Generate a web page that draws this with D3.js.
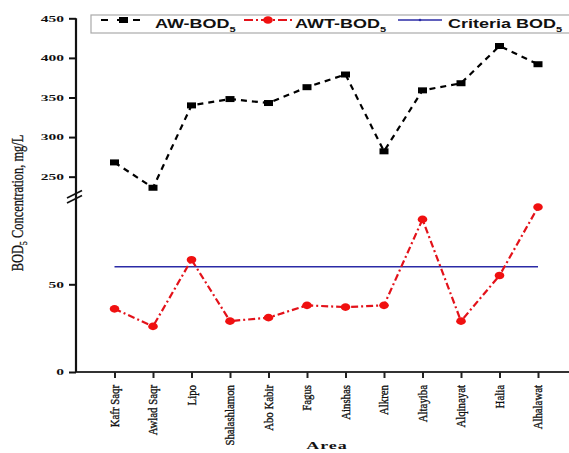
<!DOCTYPE html>
<html>
<head>
<meta charset="utf-8">
<script src="https://cdn.jsdelivr.net/npm/d3@7"></script>
<style>
  html, body { margin: 0; padding: 0; background: #fff; }
  svg { display: block; }
</style>
</head>
<body>
<svg id="chart" width="569" height="453"></svg>
<script>
const categories = ["Kafr Saqr","Awlad Saqr","Lipo","Shalashlamon","Abo Kabir","Fagus","Ainshas","Alkren","Altayiba","Alqinayat","Halia","Alhalawat"];
const awBOD = [268,236,340,348,343,363,379,282,359,368,415,392];
const awtBOD = [36,26,64,29,31,38,37,38,87,29,55,94];
const criteriaBOD = 60;
const lowTicks = [0,50];
const highTicks = [250,300,350,400,450];

const svg = d3.select("#chart");
const x = d3.scaleLinear().domain([0, categories.length + 1]).range([76, 576.5]);
const yLow = d3.scaleLinear().domain([0, 100]).range([372, 196.6]);
const yHigh = d3.scaleLinear().domain([230, 450]).range([192.5, 18.3]);
const idx = d3.range(1, categories.length + 1);

// X axis
const xAxis = svg.append("g").attr("transform", "translate(0,372)")
  .call(d3.axisBottom(x).tickValues(idx).tickFormat(() => "").tickSizeOuter(0).tickSize(6));
xAxis.select(".domain").attr("stroke", "#333").attr("stroke-width", 2).attr("d", "M76,0H569");
xAxis.selectAll(".tick line").attr("stroke", "#222").attr("stroke-width", 2);

// X tick labels (rotated)
svg.append("g").selectAll("text").data(idx).join("text")
  .attr("transform", i => `translate(${x(i) + 4},385) rotate(-90) scale(0.8,1)`)
  .attr("text-anchor", "end")
  .attr("font-family", "Liberation Serif, Times New Roman, serif")
  .attr("font-size", 13.5)
  .attr("fill", "#111").attr("stroke", "#111").attr("stroke-width", 0.35)
  .text(i => categories[i - 1]);

// Y axis
function styleY(g) {
  g.select(".domain").remove();
  g.selectAll(".tick line").attr("stroke", "#111").attr("stroke-width", 2);
  g.selectAll(".tick text").remove();
}
svg.append("g").attr("transform", "translate(76,0)")
  .call(d3.axisLeft(yLow).tickValues(lowTicks).tickSize(7)).call(styleY);
svg.append("g").attr("transform", "translate(76,0)")
  .call(d3.axisLeft(yHigh).tickValues(highTicks).tickSize(7)).call(styleY);
svg.append("line").attr("x1", 76).attr("x2", 76).attr("y1", yHigh(450)).attr("y2", yLow(0))
  .attr("stroke", "#111").attr("stroke-width", 2.2);

// Y tick labels (squashed bold serif)
function yLabels(ticks, scale) {
  svg.append("g").selectAll("text").data(ticks).join("text")
    .attr("transform", d => `translate(64,${scale(d) + 3.2}) scale(1,0.58)`)
    .attr("text-anchor", "end")
    .attr("font-family", "Liberation Serif, Times New Roman, serif")
    .attr("font-weight", "bold")
    .attr("font-size", 15.5)
    .attr("fill", "#111")
    .text(d => d);
}
yLabels(lowTicks, yLow);
yLabels(highTicks, yHigh);

// Break marks
const br = svg.append("g").attr("stroke", "#111").attr("stroke-width", 1.6);
br.append("line").attr("x1", 67).attr("y1", 198).attr("x2", 82).attr("y2", 190.5);
br.append("line").attr("x1", 67).attr("y1", 203).attr("x2", 82).attr("y2", 195.5);

// Criteria line
svg.append("line")
  .attr("x1", x(1)).attr("x2", x(categories.length))
  .attr("y1", yLow(criteriaBOD)).attr("y2", yLow(criteriaBOD))
  .attr("stroke", "#2b2ba6").attr("stroke-width", 1.3);

// AW-BOD5 series
const lineHigh = d3.line().x((d, i) => x(i + 1)).y(d => yHigh(d));
svg.append("path").datum(awBOD).attr("d", lineHigh)
  .attr("fill", "none").attr("stroke", "#000").attr("stroke-width", 2.2)
  .attr("stroke-dasharray", "6,5");
svg.append("g").selectAll("rect").data(awBOD).join("rect")
  .attr("x", (d, i) => x(i + 1) - 4.5).attr("y", d => yHigh(d) - 3)
  .attr("width", 9).attr("height", 6).attr("fill", "#000");

// AWT-BOD5 series
const lineLow = d3.line().x((d, i) => x(i + 1)).y(d => yLow(d));
svg.append("path").datum(awtBOD).attr("d", lineLow)
  .attr("fill", "none").attr("stroke", "#e3121a").attr("stroke-width", 2.2)
  .attr("stroke-dasharray", "7,3,2,3");
svg.append("g").selectAll("ellipse").data(awtBOD).join("ellipse")
  .attr("cx", (d, i) => x(i + 1)).attr("cy", d => yLow(d))
  .attr("rx", 4.8).attr("ry", 3.8).attr("fill", "#f01010");

// Legend
const lg = svg.append("g");
lg.append("rect").attr("x", 91).attr("y", 15).attr("width", 490).attr("height", 18)
  .attr("fill", "#fff").attr("stroke", "#aaa").attr("stroke-width", 1.2);
const ly = 20;
lg.append("line").attr("x1", 100).attr("x2", 148).attr("y1", ly).attr("y2", ly)
  .attr("stroke", "#000").attr("stroke-width", 2).attr("stroke-dasharray", "7,9").attr("stroke-dashoffset", -1);
lg.append("rect").attr("x", 119).attr("y", ly - 3).attr("width", 9).attr("height", 6).attr("fill", "#000");
lg.append("line").attr("x1", 244).attr("x2", 293).attr("y1", ly).attr("y2", ly)
  .attr("stroke", "#e3121a").attr("stroke-width", 2).attr("stroke-dasharray", "9,3,2,3");
lg.append("ellipse").attr("cx", 268).attr("cy", ly).attr("rx", 4.8).attr("ry", 3.8).attr("fill", "#f01010");
lg.append("line").attr("x1", 398).attr("x2", 442).attr("y1", ly).attr("y2", ly)
  .attr("stroke", "#2b2ba6").attr("stroke-width", 1.3);
lg.append("circle").attr("cx", 420).attr("cy", ly).attr("r", 1.3).attr("fill", "#2b2ba6");

const legendItems = [["AW-BOD", 155], ["AWT-BOD", 295], ["Criteria BOD", 448]];
legendItems.forEach(([label, lx]) => {
  const t = lg.append("text")
    .attr("transform", `translate(${lx},27.5) scale(1,0.68)`)
    .attr("font-family", "Liberation Sans, Arial, sans-serif")
    .attr("font-weight", "bold").attr("font-size", 18).attr("fill", "#111");
  t.append("tspan").text(label);
  t.append("tspan").attr("dy", 6).attr("font-size", 11).text("5");
});

// Y title
const yt = svg.append("text")
  .attr("transform", "translate(23,203) rotate(-90) scale(0.73,1)")
  .attr("text-anchor", "middle")
  .attr("font-family", "Liberation Serif, Times New Roman, serif")
  .attr("font-size", 17).attr("fill", "#111").attr("stroke", "#111").attr("stroke-width", 0.3);
yt.append("tspan").text("BOD");
yt.append("tspan").attr("dy", 4).attr("font-size", 11).text("5");
yt.append("tspan").attr("dy", -4).text(" Concentration, mg/L");

// X title
svg.append("text")
  .attr("transform", "translate(327,449) scale(1,0.6)")
  .attr("text-anchor", "middle")
  .attr("font-family", "Liberation Serif, Times New Roman, serif")
  .attr("font-weight", "bold").attr("font-size", 18).attr("letter-spacing", 1)
  .attr("fill", "#111").text("Area");
</script>
</body>
</html>
